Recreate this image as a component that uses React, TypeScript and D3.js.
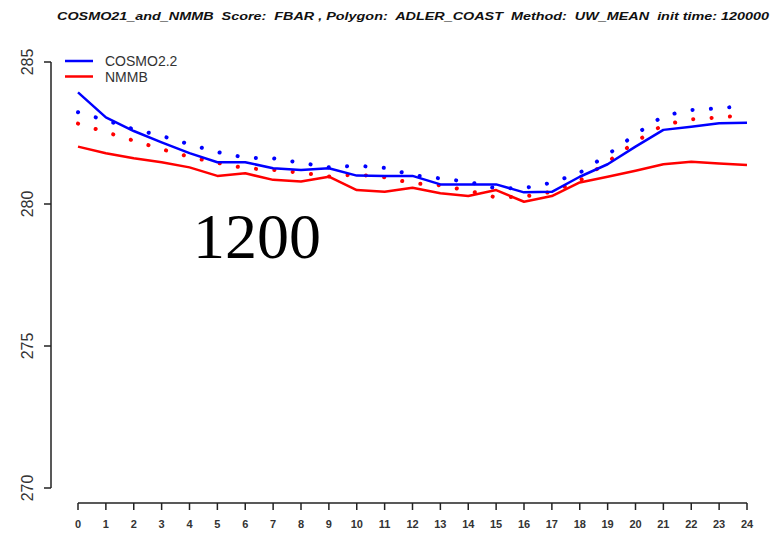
import React from "react";
import * as d3 from "d3";

// Forecast lead time (hours)
const hours: number[] = d3.range(0, 25);

// FBAR, solid lines
const cosmoFbar: number[] = [
  283.93, 283.05, 282.57, 282.17, 281.79, 281.47, 281.47, 281.26, 281.2, 281.26,
  281.0, 280.99, 280.99, 280.69, 280.69, 280.69, 280.41, 280.43, 280.96, 281.4,
  282.02, 282.61, 282.72, 282.84, 282.86,
];
const nmmbFbar: number[] = [
  282.02, 281.79, 281.61, 281.47, 281.29, 280.99, 281.08, 280.85, 280.79, 280.96,
  280.49, 280.43, 280.57, 280.38, 280.28, 280.49, 280.08, 280.28, 280.76, 280.96,
  281.17, 281.4, 281.49, 281.43, 281.37,
];

// Dotted companion series
const cosmoDotted: number[] = [
  283.23, 282.95, 282.63, 282.4, 282.1, 281.83, 281.63, 281.61, 281.45, 281.29,
  281.35, 281.27, 281.02, 280.9, 280.78, 280.55, 280.56, 280.75, 281.1, 281.74,
  282.45, 283.1, 283.31, 283.37, 283.46,
];
const nmmbDotted: number[] = [
  282.83, 282.53, 282.23, 281.93, 281.66, 281.45, 281.26, 281.2, 281.1, 280.97,
  281.04, 280.94, 280.73, 280.66, 280.47, 280.23, 280.26, 280.43, 280.82, 281.48,
  282.19, 282.79, 282.98, 283.05, 283.13,
];

const yTicks: number[] = [270, 275, 280, 285];
const legendNames: string[] = ["COSMO2.2", "NMMB"];
const seriesColors: string[] = ["#0000ff", "#ff0000"];

const titleText =
  "COSMO21_and_NMMB  Score:  FBAR , Polygon:  ADLER_COAST  Method:  UW_MEAN  init time: 120000";
const stampText = "1200";

const W = 771;
const H = 533;

export default function App() {
  const x = d3.scaleLinear().domain([0, 24]).range([78, 747]);
  const y = d3.scaleLinear().domain([270, 285]).range([488, 62]);

  const lineOf = (vals: number[]) =>
    d3
      .line<number>()
      .x((_, i) => x(hours[i]))
      .y((v) => y(v))(vals) as string;

  const solid = [cosmoFbar, nmmbFbar];
  const dotted = [cosmoDotted, nmmbDotted];

  const axisColor = "#222";
  const textColor = "#333";

  return (
    <svg
      width={W}
      height={H}
      style={{ position: "absolute", left: 0, top: 0, background: "#fff" }}
      fontFamily="Arial, 'Liberation Sans', sans-serif"
    >
      <rect x={0} y={0} width={W} height={H} fill="#fff" />

      {/* title */}
      <text
        x={57}
        y={20}
        fontSize={11}
        fontStyle="italic"
        fontWeight="bold"
        fill="#111"
        textLength={712}
        lengthAdjust="spacingAndGlyphs"
        style={{ whiteSpace: "pre" }}
      >
        {titleText}
      </text>

      {/* y axis */}
      <line x1={51} x2={51} y1={y(270)} y2={y(285)} stroke={axisColor} strokeWidth={1.5} />
      {yTicks.map((t) => (
        <g key={t}>
          <line x1={44} x2={51} y1={y(t)} y2={y(t)} stroke={axisColor} strokeWidth={1.5} />
          <text
            transform={`translate(33,${y(t)}) rotate(-90)`}
            textAnchor="middle"
            fontSize={16}
            fill={textColor}
          >
            {t}
          </text>
        </g>
      ))}

      {/* x axis */}
      <line x1={x(0)} x2={x(24)} y1={503} y2={503} stroke={axisColor} strokeWidth={1.5} />
      {hours.map((h) => (
        <g key={h}>
          <line x1={x(h)} x2={x(h)} y1={503} y2={510} stroke={axisColor} strokeWidth={1.5} />
          <text
            x={x(h)}
            y={528}
            textAnchor="middle"
            fontSize={11}
            fontWeight="bold"
            fill={textColor}
          >
            {h}
          </text>
        </g>
      ))}

      {/* dotted series */}
      {dotted.map((vals, i) => (
        <path
          key={`d${i}`}
          d={lineOf(vals)}
          fill="none"
          stroke={seriesColors[i]}
          strokeWidth={4}
          strokeLinecap="round"
          strokeDasharray="0.1 18.3"
        />
      ))}

      {/* solid series */}
      {solid.map((vals, i) => (
        <path
          key={`s${i}`}
          d={lineOf(vals)}
          fill="none"
          stroke={seriesColors[i]}
          strokeWidth={2.5}
          strokeLinejoin="round"
        />
      ))}

      {/* legend */}
      {legendNames.map((name, i) => (
        <g key={name}>
          <line
            x1={65}
            x2={93}
            y1={61 + i * 15.5}
            y2={61 + i * 15.5}
            stroke={seriesColors[i]}
            strokeWidth={2.5}
          />
          <text x={105} y={66 + i * 15.5} fontSize={14} fill={textColor}>
            {name}
          </text>
        </g>
      ))}

      {/* stamp */}
      <text x={193} y={258} fontFamily="'Liberation Serif', 'Times New Roman', serif" fontSize={64} fill="#000">
        {stampText}
      </text>
    </svg>
  );
}
